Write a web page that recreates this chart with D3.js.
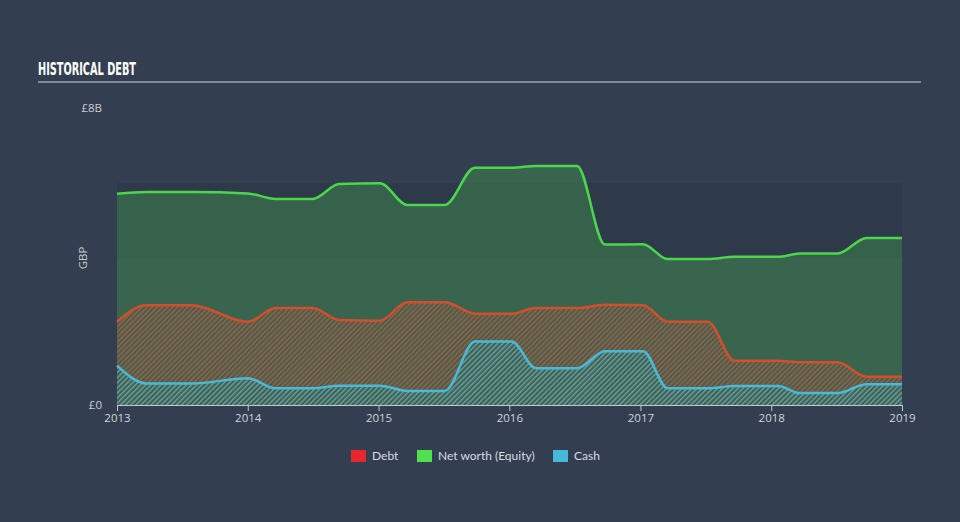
<!DOCTYPE html>
<html><head><meta charset="utf-8">
<script src="https://cdn.jsdelivr.net/npm/d3@7"></script>
<style>
html,body{margin:0;padding:0;background:#333f50;}
svg{display:block;}
</style></head>
<body>
<svg id="chart" width="960" height="522"></svg>
<script>
const dates = ["2013-01-01","2013-03-25","2013-07-28","2014-01-01","2014-03-20","2014-07-01","2014-09-13","2015-01-05","2015-03-22","2015-07-05","2015-09-27","2016-01-08","2016-03-15","2016-07-08","2016-09-24","2017-01-08","2017-03-18","2017-07-08","2017-09-20","2018-01-20","2018-03-22","2018-07-05","2018-09-24","2019-01-01"];
const equity = [5.69,5.74,5.74,5.70,5.55,5.55,5.95,5.97,5.39,5.39,6.39,6.39,6.44,6.44,4.32,4.33,3.93,3.93,3.99,3.99,4.08,4.08,4.50,4.50];
const debt   = [2.24,2.69,2.69,2.24,2.61,2.61,2.29,2.27,2.77,2.77,2.46,2.46,2.61,2.61,2.70,2.69,2.24,2.24,1.19,1.19,1.15,1.15,0.76,0.76];
const cash   = [1.06,0.58,0.58,0.72,0.45,0.45,0.52,0.52,0.38,0.38,1.71,1.71,0.99,0.99,1.45,1.45,0.45,0.45,0.51,0.51,0.32,0.32,0.56,0.56];
const yTicks = [0, 8];
const yTickLabels = ["£0", "£8B"];
const legendLabels = ["Debt", "Net worth (Equity)", "Cash"];
const legendColors = ["#e8262b", "#4fe04f", "#49b8dd"];

const svg = d3.select("#chart");
const parse = d3.timeParse("%Y-%m-%d");
const data = dates.map((d, i) => ({date: parse(d), equity: equity[i], debt: debt[i], cash: cash[i]}));

const x = d3.scaleTime().domain([parse("2013-01-01"), parse("2019-01-01")]).range([117, 902]);
const y = d3.scaleLinear().domain([0, 8]).range([405, 108]);

// background
svg.append("rect").attr("width", 960).attr("height", 522).attr("fill", "#333f50");

// title
svg.append("text").attr("x", 38).attr("y", 75)
  .attr("font-family", "'Liberation Sans Narrow','DejaVu Sans Condensed',sans-serif")
  .attr("font-weight", "bold").attr("font-size", 17).attr("fill", "#ffffff")
  .attr("textLength", 98).attr("lengthAdjust", "spacingAndGlyphs")
  .text("HISTORICAL DEBT");
svg.append("line").attr("x1", 38).attr("x2", 921).attr("y1", 82).attr("y2", 82)
  .attr("stroke", "#9aa3ad").attr("stroke-width", 1.5);

// darker plot band
svg.append("rect").attr("x", 117).attr("y", 183).attr("width", 902 - 117).attr("height", 258 - 183)
  .attr("fill", "#2e394a");

// patterns
const defs = svg.append("defs");
function hatch(id, color) {
  const p = defs.append("pattern").attr("id", id).attr("patternUnits", "userSpaceOnUse")
    .attr("width", 3.6).attr("height", 3.6).attr("patternTransform", "rotate(45)");
  p.append("rect").attr("width", 3.6).attr("height", 3.6).attr("fill", "#3a6352");
  p.append("rect").attr("x", 0).attr("width", 1.5).attr("height", 3.6).attr("fill", color);
}
hatch("debtHatch", "#a85a3e");
hatch("cashHatch", "#6c9a9e");

const curve = d3.curveMonotoneX;
const area = key => d3.area().curve(curve).x(d => x(d.date)).y0(y(0)).y1(d => y(d[key]));
const line = key => d3.line().curve(curve).x(d => x(d.date)).y(d => y(d[key]));

svg.append("path").datum(data).attr("d", area("equity")).attr("fill", "#4cd44c").attr("fill-opacity", 0.26);
svg.append("path").datum(data).attr("d", area("debt")).attr("fill", "url(#debtHatch)");
svg.append("path").datum(data).attr("d", area("cash")).attr("fill", "url(#cashHatch)");

svg.append("path").datum(data).attr("d", line("equity")).attr("fill", "none").attr("stroke", "#4cd64c").attr("stroke-width", 2.5);
svg.append("path").datum(data).attr("d", line("debt")).attr("fill", "none").attr("stroke", "#d44e2c").attr("stroke-width", 2.5);
svg.append("path").datum(data).attr("d", line("cash")).attr("fill", "none").attr("stroke", "#4cb8d8").attr("stroke-width", 2.5);

// y axis
const yAxis = svg.append("g").attr("transform", "translate(102,0)")
  .call(d3.axisLeft(y).tickValues(yTicks).tickSize(0).tickPadding(0).tickFormat((d, i) => yTickLabels[i]));
yAxis.select(".domain").remove();
yAxis.selectAll("text").attr("font-family", "'Open Sans',sans-serif").attr("font-size", 11.5).attr("fill", "#c9ced4");

svg.append("text").attr("transform", "translate(87,258) rotate(-90)")
  .attr("text-anchor", "middle").attr("font-family", "'Open Sans',sans-serif").attr("font-size", 11.5)
  .attr("fill", "#c9ced4").text("GBP");

// x axis
const xAxis = svg.append("g").attr("transform", "translate(0,405)")
  .call(d3.axisBottom(x).ticks(d3.timeYear.every(1)).tickFormat(d3.timeFormat("%Y")).tickSize(6).tickSizeOuter(0).tickPadding(3));
xAxis.select(".domain").attr("stroke", "#c3c9d0").attr("stroke-width", 1);
xAxis.selectAll(".tick line").attr("stroke", "#c3c9d0");
xAxis.selectAll("text").attr("font-family", "'Open Sans',sans-serif").attr("font-size", 11.5).attr("fill", "#d0d4d9");

// legend
const legendX = [351, 417, 553];
const lg = svg.append("g");
legendLabels.forEach((t, i) => {
  lg.append("rect").attr("x", legendX[i]).attr("y", 450).attr("width", 15).attr("height", 12).attr("fill", legendColors[i]);
  lg.append("text").attr("x", legendX[i] + 21).attr("y", 460)
    .attr("font-family", "'Lato','Open Sans',sans-serif").attr("font-size", 12).attr("fill", "#d8dce1").text(t);
});
</script>
</body></html>
